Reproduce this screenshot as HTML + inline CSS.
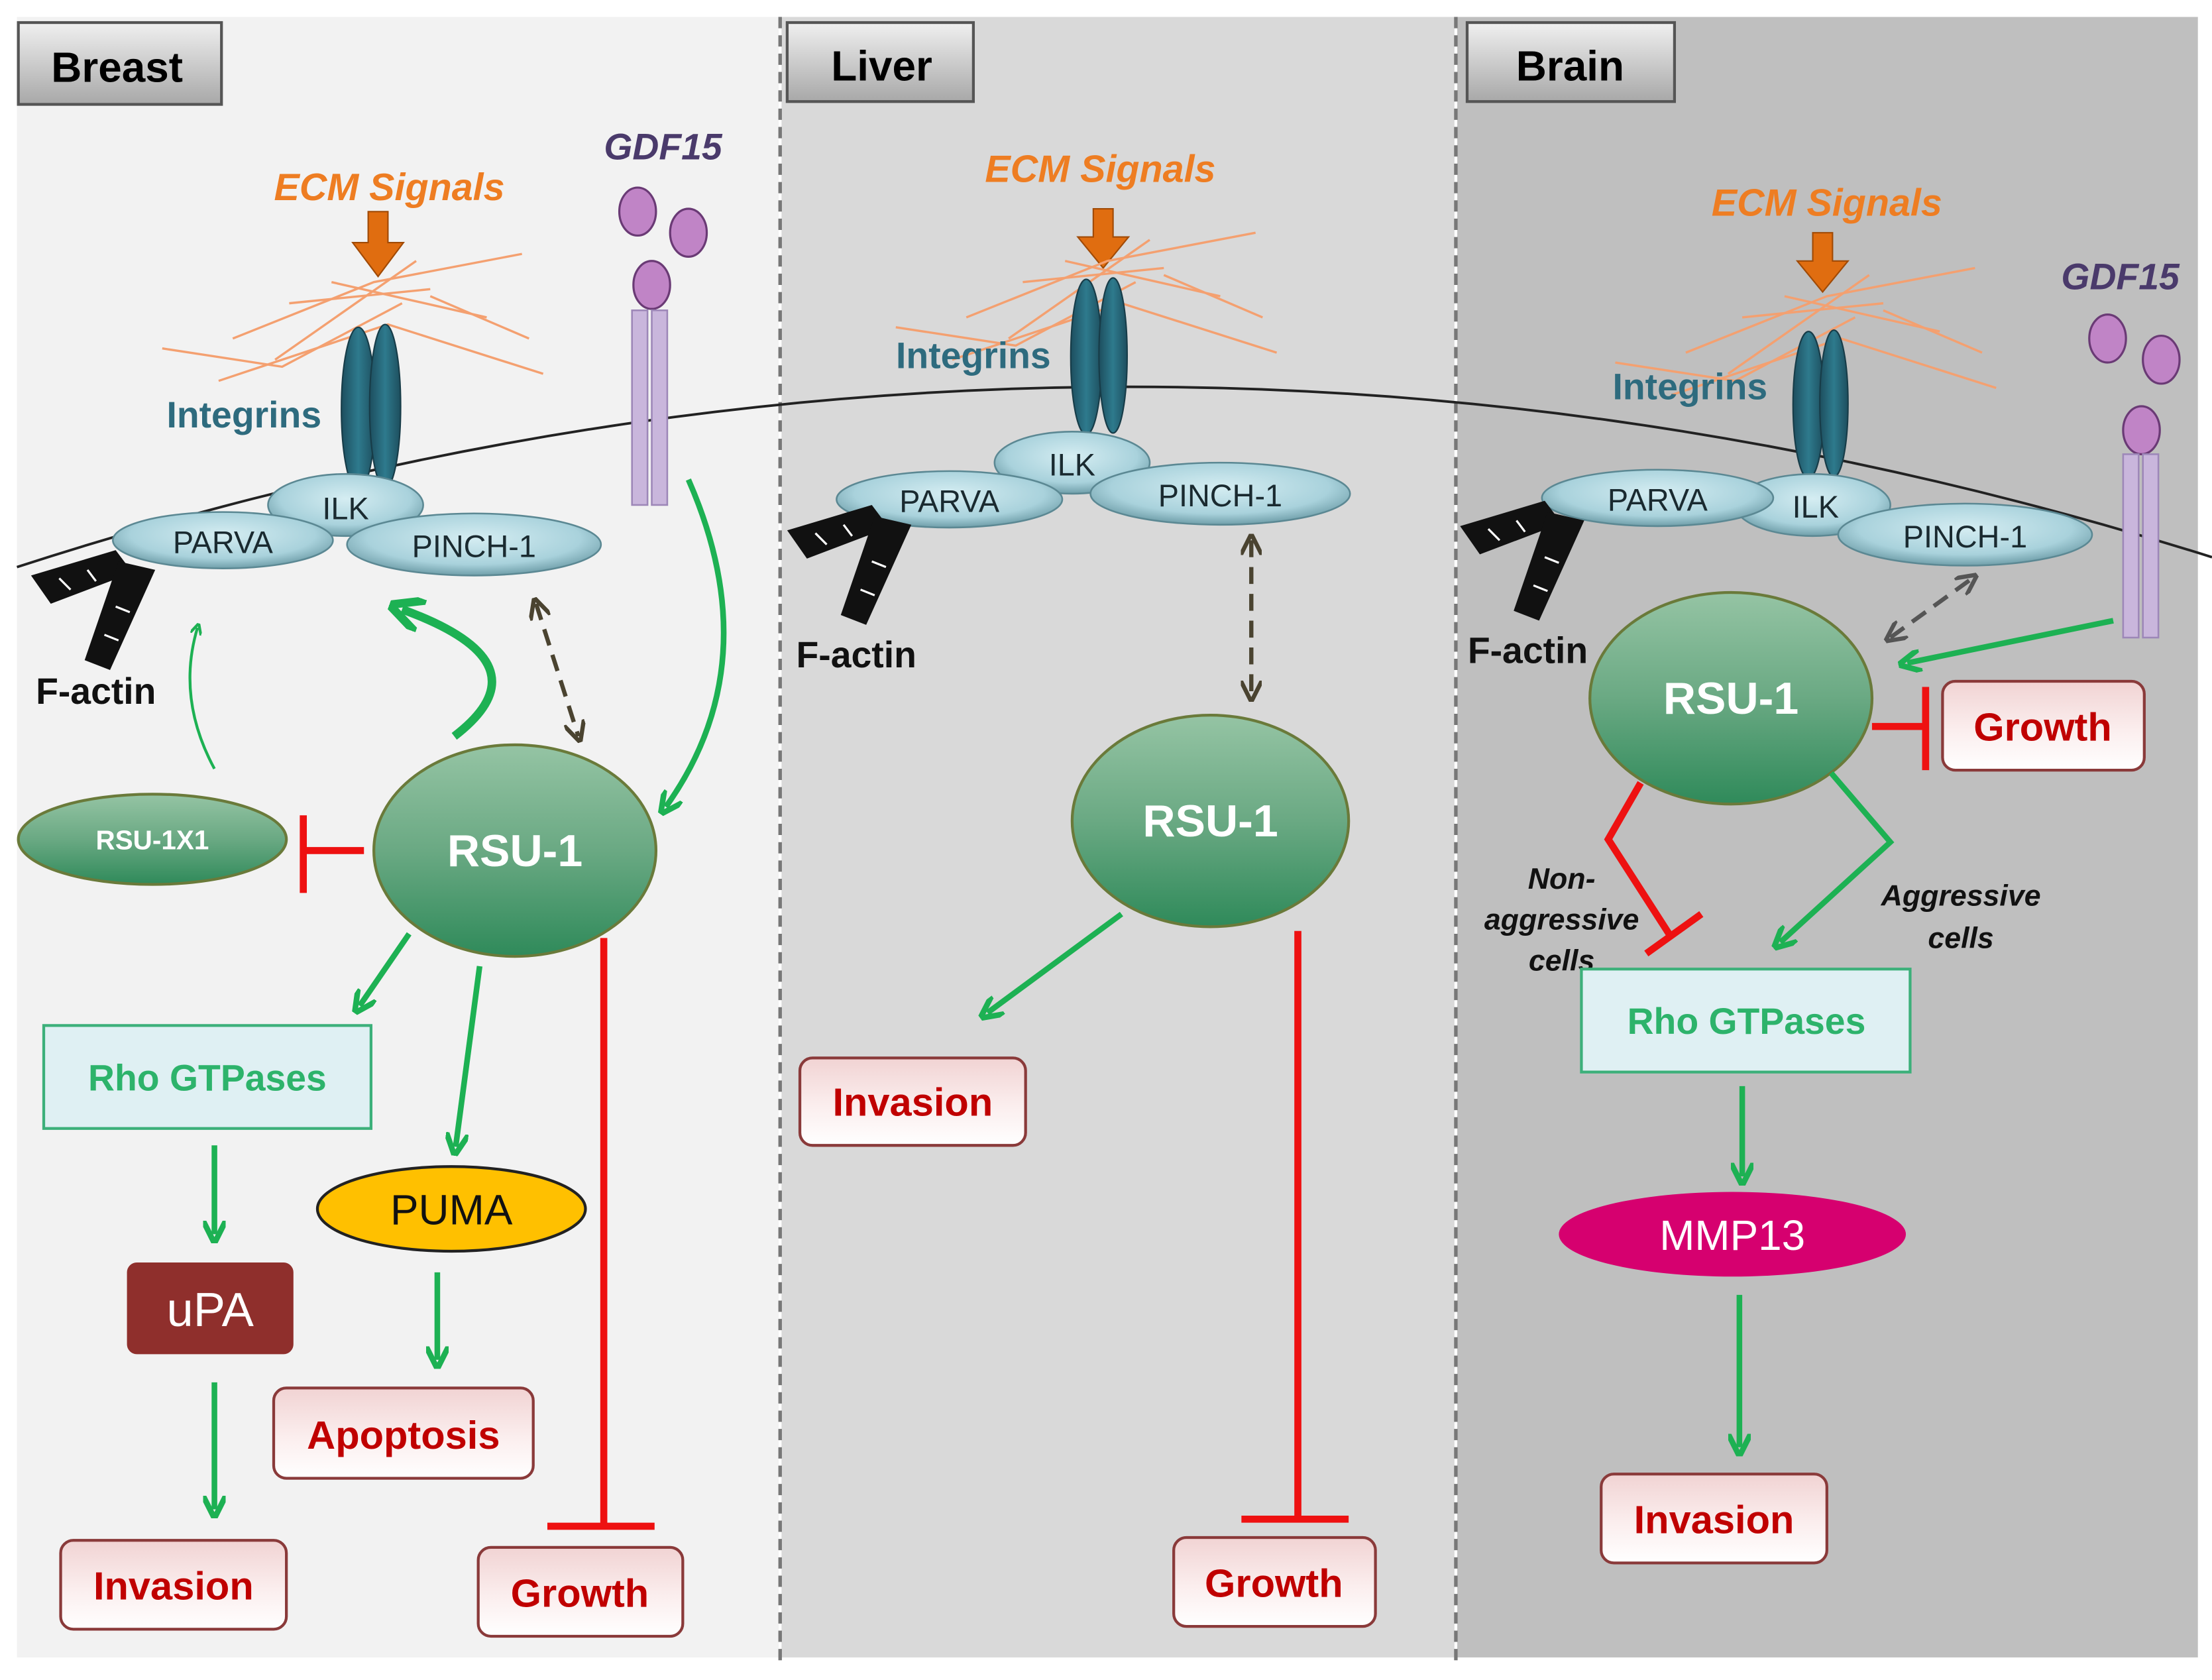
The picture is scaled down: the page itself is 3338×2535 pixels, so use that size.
<!DOCTYPE html>
<html><head><meta charset="utf-8"><style>html,body{margin:0;padding:0;background:#fff}svg{display:block}</style></head>
<body>
<svg width="3338" height="2535" viewBox="0 0 1568 1191" preserveAspectRatio="none" xmlns="http://www.w3.org/2000/svg" font-family="Liberation Sans, Arial, sans-serif">
<defs>
<linearGradient id="rsu" x1="0" y1="0" x2="0" y2="1"><stop offset="0" stop-color="#95c4a4"/><stop offset="0.5" stop-color="#6aa983"/><stop offset="1" stop-color="#2f8a5a"/></linearGradient>
<linearGradient id="lbl" x1="0" y1="0" x2="0" y2="1"><stop offset="0" stop-color="#f0f0f0"/><stop offset="1" stop-color="#a8a8a8"/></linearGradient>
<linearGradient id="out" x1="0" y1="0" x2="0" y2="1"><stop offset="0" stop-color="#f1d3d3"/><stop offset="0.55" stop-color="#fbeeee"/><stop offset="1" stop-color="#ffffff"/></linearGradient>
<radialGradient id="blue" cx="0.5" cy="0.4" r="0.6"><stop offset="0" stop-color="#d5edf2"/><stop offset="0.7" stop-color="#a9d2dc"/><stop offset="1" stop-color="#6f9ea9"/></radialGradient>
<linearGradient id="integ" x1="0" y1="0" x2="1" y2="0"><stop offset="0" stop-color="#1d4e5e"/><stop offset="0.5" stop-color="#2e7a8d"/><stop offset="1" stop-color="#1d4e5e"/></linearGradient>
<marker id="ga" viewBox="0 0 10 10" refX="6" refY="5" markerWidth="4" markerHeight="4" orient="auto"><path d="M0,0 L10,5 L0,10" fill="none" stroke="#1db153" stroke-width="2.5"/></marker>
<marker id="da" viewBox="0 0 10 10" refX="7" refY="5" markerWidth="5" markerHeight="5" orient="auto-start-reverse"><path d="M0,0 L10,5 L0,10" fill="none" stroke="#4a4330" stroke-width="2"/></marker>
<marker id="da2" viewBox="0 0 10 10" refX="7" refY="5" markerWidth="5" markerHeight="5" orient="auto-start-reverse"><path d="M0,0 L10,5 L0,10" fill="none" stroke="#555" stroke-width="2"/></marker>
<g id="fib" stroke="#f4a070" stroke-width="1.6" fill="none">
<path d="M0,72 L85,85 L170,40"/><path d="M40,95 L160,55 L270,90"/><path d="M50,65 L150,25 L255,5"/><path d="M120,25 L230,50"/><path d="M90,40 L190,30"/><path d="M80,80 L180,10"/><path d="M190,35 L260,65"/>
</g>
<g id="factin" fill="#111">
<path d="M0,18 L60,0 L72,16 L14,38 Z"/><path d="M62,8 L88,14 L56,85 L38,78 Z"/>
<path d="M20,20 l8,8 M40,14 l6,8" stroke="#fff" stroke-width="1.5"/><path d="M60,40 l10,4 M52,60 l10,4" stroke="#fff" stroke-width="1.5"/>
</g>
</defs>
<rect width="1568" height="1191" fill="#fff"/>
<rect x="12" y="12" width="540" height="1163" fill="#f2f2f2"/>
<rect x="554" y="12" width="477" height="1163" fill="#d9d9d9"/>
<rect x="1033" y="12" width="525" height="1163" fill="#bfbfbf"/>
<line x1="553" y1="12" x2="553" y2="1180" stroke="#777" stroke-width="2.5" stroke-dasharray="8,5"/>
<line x1="1032" y1="12" x2="1032" y2="1180" stroke="#777" stroke-width="2.5" stroke-dasharray="8,5"/>

<!-- membrane -->
<path d="M12,402 Q790,150 1568,395" fill="none" stroke="#222" stroke-width="1.8"/>

<!-- labels -->
<g font-weight="bold" font-size="30" text-anchor="middle">
<rect x="13" y="16" width="144" height="58" fill="url(#lbl)" stroke="#555" stroke-width="2"/><text x="83" y="58">Breast</text>
<rect x="558" y="16" width="132" height="56" fill="url(#lbl)" stroke="#555" stroke-width="2"/><text x="625" y="57">Liver</text>
<rect x="1040" y="16" width="147" height="56" fill="url(#lbl)" stroke="#555" stroke-width="2"/><text x="1113" y="57">Brain</text>
</g>

<!-- ECM -->
<g font-weight="bold" font-style="italic" font-size="27" fill="#ee7d22" text-anchor="middle">
<text x="276" y="142">ECM Signals</text><text x="780" y="129">ECM Signals</text><text x="1295" y="153">ECM Signals</text>
</g>
<g fill="#e06d10" stroke="#a04a06" stroke-width="1">
<path d="M261,150 h14 v22 h11 l-18,24 l-18,-24 h11 z"/>
<path d="M775,148 h14 v20 h11 l-18,22 l-18,-22 h11 z"/>
<path d="M1285,165 h14 v20 h11 l-18,22 l-18,-22 h11 z"/>
</g>
<use href="#fib" x="115" y="175"/>
<use href="#fib" x="635" y="160"/>
<use href="#fib" x="1145" y="185"/>

<!-- GDF15 breast -->
<text x="470" y="113" font-weight="bold" font-style="italic" font-size="26" fill="#4a3a6b" text-anchor="middle">GDF15</text>
<g fill="#c084c6" stroke="#6a3a75" stroke-width="1.5">
<ellipse cx="452" cy="150" rx="13" ry="17"/><ellipse cx="488" cy="165" rx="13" ry="17"/><ellipse cx="462" cy="202" rx="13" ry="17"/>
</g>
<g fill="#c9b6dc" stroke="#9d87b8" stroke-width="1.2"><rect x="448" y="220" width="11" height="138"/><rect x="462" y="220" width="11" height="138"/></g>
<!-- GDF15 brain -->
<text x="1503" y="205" font-weight="bold" font-style="italic" font-size="26" fill="#4a3a6b" text-anchor="middle">GDF15</text>
<g fill="#c084c6" stroke="#6a3a75" stroke-width="1.5">
<ellipse cx="1494" cy="240" rx="13" ry="17"/><ellipse cx="1532" cy="255" rx="13" ry="17"/><ellipse cx="1518" cy="305" rx="13" ry="17"/>
</g>
<g fill="#c9b6dc" stroke="#9d87b8" stroke-width="1.2"><rect x="1505" y="322" width="11" height="130"/><rect x="1519" y="322" width="11" height="130"/></g>

<!-- integrins -->
<g font-weight="bold" font-size="26" fill="#2e6b7e" text-anchor="middle">
<text x="173" y="303">Integrins</text><text x="690" y="261">Integrins</text><text x="1198" y="283">Integrins</text>
</g>
<g fill="url(#integ)" stroke="#173c48" stroke-width="1">
<ellipse cx="254" cy="290" rx="12" ry="58"/><ellipse cx="273" cy="288" rx="11" ry="58"/>
<ellipse cx="770" cy="253" rx="11" ry="55"/><ellipse cx="789" cy="252" rx="10" ry="55"/>
<ellipse cx="1282" cy="287" rx="11" ry="52"/><ellipse cx="1300" cy="286" rx="10" ry="52"/>
</g>

<!-- complexes -->
<g stroke="#5b8893" stroke-width="1.2" fill="url(#blue)">
<ellipse cx="245" cy="358" rx="55" ry="22"/><ellipse cx="158" cy="383" rx="78" ry="20"/><ellipse cx="336" cy="386" rx="90" ry="22"/>
<ellipse cx="760" cy="328" rx="55" ry="22"/><ellipse cx="673" cy="354" rx="80" ry="20"/><ellipse cx="865" cy="350" rx="92" ry="22"/>
<ellipse cx="1285" cy="358" rx="55" ry="22"/><ellipse cx="1175" cy="353" rx="82" ry="20"/><ellipse cx="1393" cy="379" rx="90" ry="22"/>
</g>
<g font-size="22" fill="#1a2a30" text-anchor="middle">
<text x="245" y="368">ILK</text><text x="158" y="392">PARVA</text><text x="336" y="395">PINCH-1</text>
<text x="760" y="337">ILK</text><text x="673" y="363">PARVA</text><text x="865" y="359">PINCH-1</text>
<text x="1287" y="367">ILK</text><text x="1175" y="362">PARVA</text><text x="1393" y="388">PINCH-1</text>
</g>

<!-- F-actin -->
<use href="#factin" x="22" y="390"/><use href="#factin" x="558" y="358"/><use href="#factin" x="1035" y="355"/>
<g font-weight="bold" font-size="26" fill="#111" text-anchor="middle">
<text x="68" y="499">F-actin</text><text x="607" y="473">F-actin</text><text x="1083" y="470">F-actin</text>
</g>

<!-- Breast arrows -->
<path d="M152,545 Q125,495 140,445" fill="none" stroke="#1db153" stroke-width="2" marker-end="url(#ga)"/>
<path d="M322,522 Q390,470 285,432" fill="none" stroke="#1db153" stroke-width="6" marker-end="url(#ga)"/>
<path d="M380,428 L410,522" fill="none" stroke="#4a4330" stroke-width="3" stroke-dasharray="12,7" marker-start="url(#da)" marker-end="url(#da)"/>
<path d="M488,340 Q545,470 472,572" fill="none" stroke="#1db153" stroke-width="4" marker-end="url(#ga)"/>
<path d="M290,662 L255,713" stroke="#1db153" stroke-width="4" marker-end="url(#ga)"/>
<path d="M340,685 L323,813" stroke="#1db153" stroke-width="4" marker-end="url(#ga)"/>
<path d="M152,812 L152,875" stroke="#1db153" stroke-width="4" marker-end="url(#ga)"/>
<path d="M152,980 L152,1070" stroke="#1db153" stroke-width="4" marker-end="url(#ga)"/>
<path d="M310,902 L310,964" stroke="#1db153" stroke-width="4" marker-end="url(#ga)"/>
<g stroke="#ee1111" stroke-width="5" fill="none">
<path d="M258,603 L215,603 M215,578 L215,633"/>
<path d="M428,665 L428,1082 M388,1082 L464,1082"/>
</g>

<!-- RSU-1 breast -->
<ellipse cx="365" cy="603" rx="100" ry="75" fill="url(#rsu)" stroke="#6a7a3a" stroke-width="2"/>
<text x="365" y="614" font-weight="bold" font-size="32" fill="#fff" text-anchor="middle">RSU-1</text>
<ellipse cx="108" cy="595" rx="95" ry="32" fill="url(#rsu)" stroke="#6a7a3a" stroke-width="2"/>
<text x="108" y="602" font-weight="bold" font-size="19" fill="#fff" text-anchor="middle">RSU-1X1</text>

<rect x="31" y="727" width="232" height="73" fill="#dff0f3" stroke="#3cb07a" stroke-width="2"/>
<text x="147" y="773" font-weight="bold" font-size="26" fill="#2db36b" text-anchor="middle">Rho GTPases</text>
<rect x="90" y="895" width="118" height="65" rx="7" fill="#8f2f2c"/>
<text x="149" y="940" font-size="34" fill="#fff" text-anchor="middle">uPA</text>
<ellipse cx="320" cy="857" rx="95" ry="30" fill="#ffc000" stroke="#222" stroke-width="2"/>
<text x="320" y="868" font-size="30" fill="#111" text-anchor="middle">PUMA</text>

<!-- outcome boxes -->
<g stroke="#8a3a3a" stroke-width="2" fill="url(#out)">
<rect x="43" y="1092" width="160" height="63" rx="9"/>
<rect x="194" y="984" width="184" height="64" rx="9"/>
<rect x="339" y="1097" width="145" height="63" rx="9"/>
<rect x="567" y="750" width="160" height="62" rx="9"/>
<rect x="832" y="1090" width="143" height="63" rx="9"/>
<rect x="1377" y="483" width="143" height="63" rx="9"/>
<rect x="1135" y="1045" width="160" height="63" rx="9"/>
</g>
<g font-weight="bold" font-size="28" fill="#c00000" text-anchor="middle">
<text x="123" y="1134">Invasion</text><text x="286" y="1027">Apoptosis</text><text x="411" y="1139">Growth</text>
<text x="647" y="791">Invasion</text><text x="903" y="1132">Growth</text>
<text x="1448" y="525">Growth</text><text x="1215" y="1087">Invasion</text>
</g>

<!-- Liver -->
<path d="M887,383 L887,493" stroke="#4a4330" stroke-width="3" stroke-dasharray="12,7" marker-start="url(#da)" marker-end="url(#da)"/>
<ellipse cx="858" cy="582" rx="98" ry="75" fill="url(#rsu)" stroke="#6a7a3a" stroke-width="2"/>
<text x="858" y="593" font-weight="bold" font-size="32" fill="#fff" text-anchor="middle">RSU-1</text>
<path d="M795,648 L700,718" stroke="#1db153" stroke-width="4" marker-end="url(#ga)"/>
<path d="M920,660 L920,1077 M880,1077 L956,1077" stroke="#ee1111" stroke-width="5" fill="none"/>

<!-- Brain -->
<path d="M1340,452 L1398,410" stroke="#555" stroke-width="3" stroke-dasharray="12,7" marker-start="url(#da2)" marker-end="url(#da2)"/>
<path d="M1498,440 L1352,470" stroke="#1db153" stroke-width="4" marker-end="url(#ga)"/>
<ellipse cx="1227" cy="495" rx="100" ry="75" fill="url(#rsu)" stroke="#6a7a3a" stroke-width="2"/>
<text x="1227" y="506" font-weight="bold" font-size="32" fill="#fff" text-anchor="middle">RSU-1</text>
<g stroke="#ee1111" stroke-width="5" fill="none">
<path d="M1327,515 L1365,515 M1365,487 L1365,546"/>
<path d="M1163,555 L1140,595 L1185,665 M1167,676 L1206,648"/>
</g>
<path d="M1298,548 L1340,597 L1262,668" fill="none" stroke="#1db153" stroke-width="4" marker-end="url(#ga)"/>
<g font-weight="bold" font-style="italic" font-size="21" fill="#111" text-anchor="middle">
<text x="1107" y="630">Non-</text><text x="1107" y="659">aggressive</text><text x="1107" y="688">cells</text>
<text x="1390" y="642">Aggressive</text><text x="1390" y="672">cells</text>
</g>
<rect x="1121" y="687" width="233" height="73" fill="#dff0f3" stroke="#3cb07a" stroke-width="2"/>
<text x="1238" y="733" font-weight="bold" font-size="26" fill="#2db36b" text-anchor="middle">Rho GTPases</text>
<path d="M1235,770 L1235,834" stroke="#1db153" stroke-width="4" marker-end="url(#ga)"/>
<ellipse cx="1228" cy="875" rx="123" ry="30" fill="#d6006f"/>
<text x="1228" y="886" font-size="30" fill="#fff" text-anchor="middle">MMP13</text>
<path d="M1233,918 L1233,1026" stroke="#1db153" stroke-width="4" marker-end="url(#ga)"/>
</svg>
</body></html>
